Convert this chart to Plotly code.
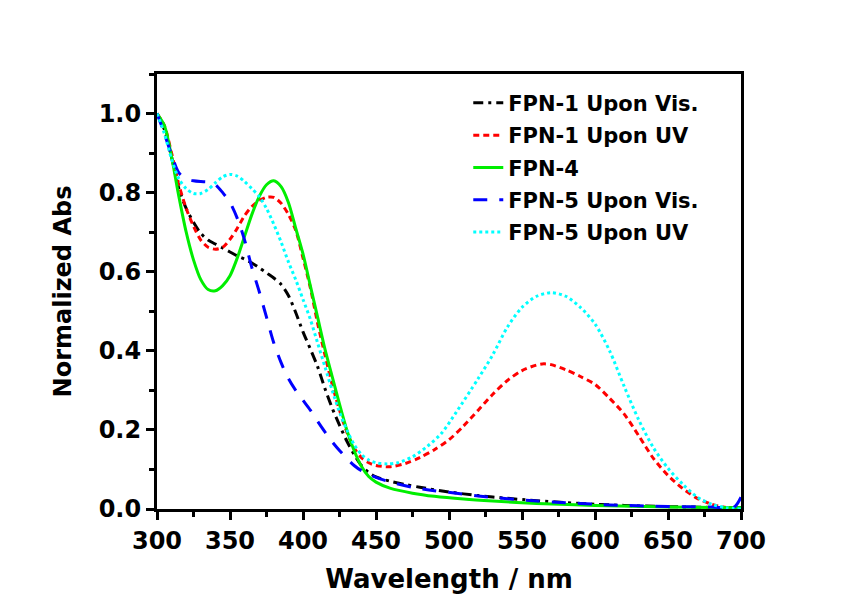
import plotly.graph_objects as go

# ---- data ----
wl_vis1 = [300, 305, 310, 315, 320, 325, 330, 335, 340, 345, 350, 355, 360, 365, 370, 375, 380, 385,
           390, 395, 400, 405, 410, 415, 420, 425, 430, 435, 440, 445, 450, 460, 470, 480, 500, 520,
           540, 560, 580, 600, 620, 650, 680, 700]
abs_vis1 = [1.0, 0.96, 0.89, 0.81, 0.76, 0.725, 0.697, 0.68, 0.67, 0.66, 0.65, 0.64, 0.632, 0.622, 0.61,
            0.597, 0.584, 0.568, 0.54, 0.497, 0.448, 0.405, 0.36, 0.305, 0.255, 0.212, 0.172, 0.138,
            0.11, 0.092, 0.081, 0.07, 0.062, 0.055, 0.043, 0.034, 0.027, 0.021, 0.016, 0.012, 0.009,
            0.006, 0.004, 0.003]

wl_uv1 = [300, 305, 310, 315, 320, 325, 330, 335, 340, 345, 350, 355, 360, 365, 370, 375, 380, 385,
          390, 395, 400, 405, 410, 415, 420, 425, 430, 435, 440, 445, 450, 460, 470, 480, 490, 500,
          510, 520, 530, 540, 550, 560, 565, 570, 580, 590, 600, 610, 620, 630, 640, 650, 660, 670,
          680, 690, 700]
abs_uv1 = [1.0, 0.97, 0.9, 0.82, 0.76, 0.715, 0.68, 0.662, 0.657, 0.662, 0.682, 0.71, 0.742, 0.765,
           0.78, 0.788, 0.788, 0.773, 0.745, 0.705, 0.635, 0.56, 0.47, 0.39, 0.315, 0.25, 0.195, 0.155,
           0.13, 0.117, 0.11, 0.107, 0.115, 0.13, 0.15, 0.175, 0.21, 0.25, 0.29, 0.325, 0.35, 0.364,
           0.367, 0.365, 0.352, 0.335, 0.315, 0.28, 0.24, 0.185, 0.128, 0.085, 0.052, 0.027, 0.012,
           0.004, 0.001]

wl_fpn4 = [300, 305, 310, 315, 320, 325, 330, 335, 340, 345, 350, 355, 360, 365, 370, 375, 380, 385,
           390, 395, 400, 405, 410, 415, 420, 425, 430, 435, 440, 445, 450, 460, 475, 490, 510, 530,
           560, 600, 650, 700]
abs_fpn4 = [1.0, 0.97, 0.89, 0.79, 0.7, 0.63, 0.58, 0.555, 0.552, 0.565, 0.59, 0.635, 0.69, 0.745,
            0.79, 0.82, 0.83, 0.815, 0.775, 0.71, 0.645, 0.565, 0.485, 0.405, 0.335, 0.265, 0.2, 0.148,
            0.108, 0.082, 0.068, 0.052, 0.04, 0.032, 0.025, 0.02, 0.014, 0.009, 0.005, 0.003]

wl_vis5 = [300, 305, 310, 315, 320, 325, 330, 335, 340, 345, 350, 355, 360, 365, 370, 375, 380, 385,
           390, 395, 400, 405, 410, 415, 420, 425, 430, 435, 440, 450, 460, 475, 490, 505, 520, 540,
           560, 580, 600, 620, 640, 660, 680, 695, 700]
abs_vis5 = [1.0, 0.95, 0.895, 0.85, 0.835, 0.83, 0.828, 0.827, 0.82, 0.8, 0.775, 0.735, 0.68, 0.61,
            0.55, 0.485, 0.42, 0.37, 0.33, 0.3, 0.275, 0.25, 0.222, 0.195, 0.17, 0.148, 0.128, 0.11,
            0.097, 0.08, 0.068, 0.055, 0.046, 0.04, 0.033, 0.026, 0.02, 0.016, 0.012, 0.009, 0.007,
            0.006, 0.005, 0.004, 0.03]

wl_uv5 = [300, 305, 310, 315, 320, 325, 330, 335, 340, 345, 350, 355, 360, 365, 370, 375, 380, 385,
          390, 395, 400, 405, 410, 415, 420, 425, 430, 435, 440, 445, 450, 458, 465, 475, 485, 495,
          505, 520, 530, 540, 550, 560, 570, 580, 590, 600, 610, 620, 630, 640, 650, 660, 670, 680,
          690, 700]
abs_uv5 = [1.0, 0.95, 0.885, 0.835, 0.81, 0.798, 0.798, 0.808, 0.825, 0.84, 0.846, 0.842, 0.828, 0.81,
           0.79, 0.76, 0.72, 0.675, 0.625, 0.58, 0.53, 0.48, 0.42, 0.36, 0.3, 0.245, 0.2, 0.163,
           0.138, 0.124, 0.117, 0.114, 0.117, 0.132, 0.158, 0.192, 0.245, 0.33, 0.39, 0.46, 0.51,
           0.538, 0.547, 0.538, 0.51, 0.468, 0.4, 0.31, 0.225, 0.155, 0.103, 0.063, 0.03, 0.012,
           0.003, 0.0]

series_names = ["FPN-1 Upon Vis.", "FPN-1 Upon UV", "FPN-4", "FPN-5 Upon Vis.", "FPN-5 Upon UV"]

FONT = "DejaVu Sans"

fig = go.Figure()
styles = [
    (wl_vis1, abs_vis1, "#000000", "10px,5px,3px,5px"),
    (wl_uv1, abs_uv1, "#ff0000", "6px,4px"),
    (wl_fpn4, abs_fpn4, "#00ee00", "solid"),
    (wl_vis5, abs_vis5, "#0000ff", "14px,12px"),
    (wl_uv5, abs_uv5, "#00ffff", "3px,3px"),
]
for i, (name, (x, y, c, d)) in enumerate(zip(series_names, styles)):
    fig.add_trace(go.Scatter(x=x, y=y, mode="lines", name=name, legendgroup=f"g{i}",
                             line=dict(color=c, width=3, dash=d, shape="spline", smoothing=0.8)))

axis_common = dict(
    showline=True, linewidth=3, linecolor="black", mirror=True,
    ticks="outside", ticklen=8, tickwidth=2.5, tickcolor="black",
    showgrid=False, zeroline=False, automargin=False,
    tickfont=dict(family=FONT, size=24, color="black", weight="bold"),
)

fig.update_xaxes(range=[300, 700], dtick=50, tick0=300,
                 minor=dict(dtick=25, ticklen=5, tickwidth=2.5, tickcolor="black", ticks="outside"),
                 title=dict(text="Wavelength / nm", standoff=17,
                            font=dict(family=FONT, size=26, color="black", weight="bold")),
                 **axis_common)
fig.update_yaxes(range=[0, 1.1], dtick=0.2, tick0=0, tickformat=".1f",
                 minor=dict(dtick=0.1, ticklen=5, tickwidth=2.5, tickcolor="black", ticks="outside"),
                 title=dict(text="Normalized Abs", standoff=21,
                            font=dict(family=FONT, size=24, color="black", weight="bold")),
                 **axis_common)

fig.update_layout(
    width=845, height=601,
    margin=dict(l=157, r=104, t=74, b=92),
    plot_bgcolor="white", paper_bgcolor="white",
    legend=dict(x=0.533, y=0.98, xanchor="left", yanchor="top",
                bgcolor="rgba(0,0,0,0)", borderwidth=0,
                font=dict(family=FONT, size=21, color="black", weight="bold"),
                tracegroupgap=2),
)

fig.write_html("out.html", config={"displayModeBar": False},
               post_script="document.body.style.margin='0';")
